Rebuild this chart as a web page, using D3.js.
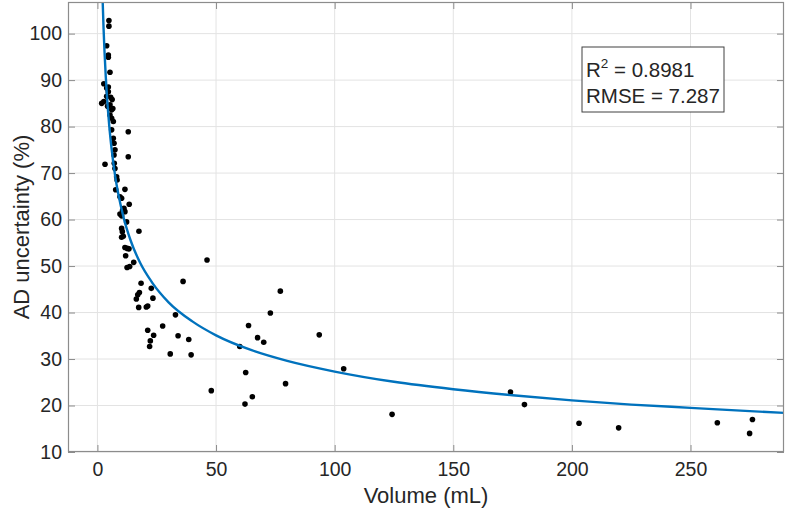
<!DOCTYPE html>
<html>
<head>
<meta charset="utf-8">
<script src="https://cdn.jsdelivr.net/npm/d3@7"></script>
<style>
  body { margin: 0; background: #fff; }
  text { font-family: "Liberation Sans", Arial, sans-serif; fill: #262626; }
</style>
</head>
<body>
<script>
// measured points: volume (mL), AD uncertainty (%)
const volume = [
  4.85, 4.85, 3.9, 4.6, 4.6, 5.3, 2.7, 4.6, 3.9, 4.6, 3.9, 1.8, 2.7, 5.3, 6.0, 5.3, 6.0, 6.7, 6.0, 6.7,
  7.0, 7.4, 7.0, 13, 13, 3.2, 5.6, 4.3, 6.2, 6.5, 7.1, 7.4, 8.1, 8.3, 7.7, 11.6, 9.5, 10.2, 13.4, 11.2,
  10.6, 11.6, 9.5, 10.2, 12.3, 17.5, 10.2, 10.5, 10.9, 10.2, 11.6, 12.6, 13.3, 11.9, 15.3, 12.5, 13.6,
  18.4, 17.7, 17, 16.4, 22.7, 23.4, 36.1, 17.4, 20.6, 21.2, 32.9, 21.2, 23.7, 22.3, 22, 27.5, 34, 38.5,
  30.7, 39.5, 46.2, 77.1, 72.9, 63.7, 67.5, 70.1, 93.5, 60, 103.8, 62.5, 79.3, 48, 65.3, 62.2, 124.2,
  174.1, 180, 203, 219.7, 261.3, 276.1, 274.9
];
const uncertainty = [
  102.8, 101.6, 97.4, 95.4, 94.9, 91.7, 89.2, 88.5, 88.3, 87.5, 86.5, 85, 85.4, 84.7, 83.6, 82.5, 81.8, 81.1, 79.3, 77.5,
  76.4, 75, 73.9, 78.9, 73.5, 71.9, 86.3, 84.4, 85.8, 83.9, 72.1, 71, 69.2, 68.5, 66.4, 66.5, 64.9, 64.6, 63.3, 62.4,
  62, 61.7, 61.2, 60.8, 59.5, 57.5, 58.1, 57.4, 56.4, 56.2, 54, 53.8, 53.7, 52.2, 50.8, 49.7, 49.9,
  46.3, 44.3, 43.8, 42.9, 45.2, 43.1, 46.7, 41.1, 41.2, 41.4, 39.5, 36.2, 35.1, 33.9, 32.7, 37.1, 35, 34.2,
  31.1, 30.9, 51.3, 44.6, 39.9, 37.2, 34.6, 33.6, 35.2, 32.7, 27.9, 27.1, 24.7, 23.2, 21.9, 20.3, 18.1,
  22.9, 20.2, 16.2, 15.2, 16.3, 17, 14
];

// fitted curve
const fitVolume = [2.0, 2.2, 2.6, 3.0, 3.5, 4.0, 5.0, 6.0, 7.5, 9, 11, 14, 18, 23, 30, 40, 50, 65, 80, 100, 125, 150, 175, 200, 225, 250, 275, 290];
const fitUnc    = [110.8, 107.2, 101.0, 96.0, 90.9, 86.7, 80.1, 75.1, 69.3, 65.0, 60.5, 55.5, 50.7, 46.5, 42.2, 38.1, 35.1, 31.9, 29.6, 27.3, 25.1, 23.5, 22.2, 21.1, 20.2, 19.5, 18.8, 18.4];

const xTicks = [0, 50, 100, 150, 200, 250];
const yTicks = [10, 20, 30, 40, 50, 60, 70, 80, 90, 100];
const xDomain = [-12.4, 289.4];
const yDomain = [10, 106.8];
const stats = {r2: "0.8981", rmse: "7.287"};

const width = 787, height = 514;
const margin = {top: 2, right: 3, bottom: 62, left: 68};
const iw = width - margin.left - margin.right;
const ih = height - margin.top - margin.bottom;

const svg = d3.select("body").append("svg")
    .attr("width", width)
    .attr("height", height);

const g = svg.append("g")
    .attr("transform", `translate(${margin.left},${margin.top})`);

const x = d3.scaleLinear().domain(xDomain).range([0, iw]);
const y = d3.scaleLinear().domain(yDomain).range([ih, 0]);

g.append("rect").attr("width", iw).attr("height", ih).attr("fill", "#fff");

// grid
g.append("g").selectAll("line").data(xTicks).join("line")
    .attr("x1", d => x(d)).attr("x2", d => x(d))
    .attr("y1", 0).attr("y2", ih)
    .attr("stroke", "#e3e3e3").attr("stroke-width", 1);
g.append("g").selectAll("line").data(yTicks).join("line")
    .attr("y1", d => y(d)).attr("y2", d => y(d))
    .attr("x1", 0).attr("x2", iw)
    .attr("stroke", "#e3e3e3").attr("stroke-width", 1);

svg.append("clipPath").attr("id", "plotclip")
  .append("rect").attr("width", iw).attr("height", ih);

const plot = g.append("g").attr("clip-path", "url(#plotclip)");

// points
plot.append("g").selectAll("circle")
  .data(volume.map((v, i) => [v, uncertainty[i]]))
  .join("circle")
    .attr("cx", d => x(d[0]))
    .attr("cy", d => y(d[1]))
    .attr("r", 2.8)
    .attr("fill", "#000");

// fit line
const line = d3.line()
    .curve(d3.curveMonotoneX)
    .x(d => x(d[0]))
    .y(d => y(d[1]));

plot.append("path")
    .datum(fitVolume.map((v, i) => [v, fitUnc[i]]))
    .attr("d", line)
    .attr("fill", "none")
    .attr("stroke", "#0072BD")
    .attr("stroke-width", 2.4);

// axes (ticks inside, box on)
const axisColor = "#8c8c8c";
function styleAxis(sel) {
  sel.select(".domain").remove();
  sel.selectAll(".tick line").attr("stroke", axisColor);
  sel.selectAll("text").attr("font-size", 19.5).attr("fill", "#262626")
     .style("font-family", "'Liberation Sans', Arial, sans-serif");
}

g.append("g")
    .attr("transform", `translate(0,${ih})`)
    .call(d3.axisBottom(x).tickValues(xTicks).tickSizeInner(-7).tickSizeOuter(0).tickPadding(10))
    .call(styleAxis);
g.append("g")
    .call(d3.axisLeft(y).tickValues(yTicks).tickSizeInner(-7).tickSizeOuter(0).tickPadding(6))
    .call(styleAxis);
g.append("g")
    .call(d3.axisTop(x).tickValues(xTicks).tickSizeInner(-7).tickSizeOuter(0).tickFormat(""))
    .call(styleAxis);
g.append("g")
    .attr("transform", `translate(${iw},0)`)
    .call(d3.axisRight(y).tickValues(yTicks).tickSizeInner(-7).tickSizeOuter(0).tickFormat(""))
    .call(styleAxis);

g.append("rect")
    .attr("x", 0.5).attr("y", 0.5)
    .attr("width", iw - 1).attr("height", ih - 1)
    .attr("fill", "none")
    .attr("stroke", axisColor)
    .attr("stroke-width", 1.2);

// axis labels
svg.append("text")
    .attr("x", margin.left + iw / 2)
    .attr("y", 503)
    .attr("text-anchor", "middle")
    .attr("font-size", 22)
    .text("Volume (mL)");

svg.append("text")
    .attr("transform", `translate(29,${margin.top + ih / 2}) rotate(-90)`)
    .attr("text-anchor", "middle")
    .attr("font-size", 22)
    .text("AD uncertainty (%)");

// stats box
const box = svg.append("g").attr("transform", "translate(582,47)");
box.append("rect")
    .attr("width", 142).attr("height", 65)
    .attr("fill", "#fff")
    .attr("stroke", "#404040")
    .attr("stroke-width", 1);
const t1 = box.append("text").attr("x", 4).attr("y", 30).attr("font-size", 20.5);
t1.append("tspan").text("R");
t1.append("tspan").attr("font-size", 13.5).attr("dy", -9).text("2");
t1.append("tspan").attr("dy", 9).text(" = " + stats.r2);
box.append("text").attr("x", 4).attr("y", 56).attr("font-size", 20.5)
    .text("RMSE = " + stats.rmse);
</script>
</body>
</html>
